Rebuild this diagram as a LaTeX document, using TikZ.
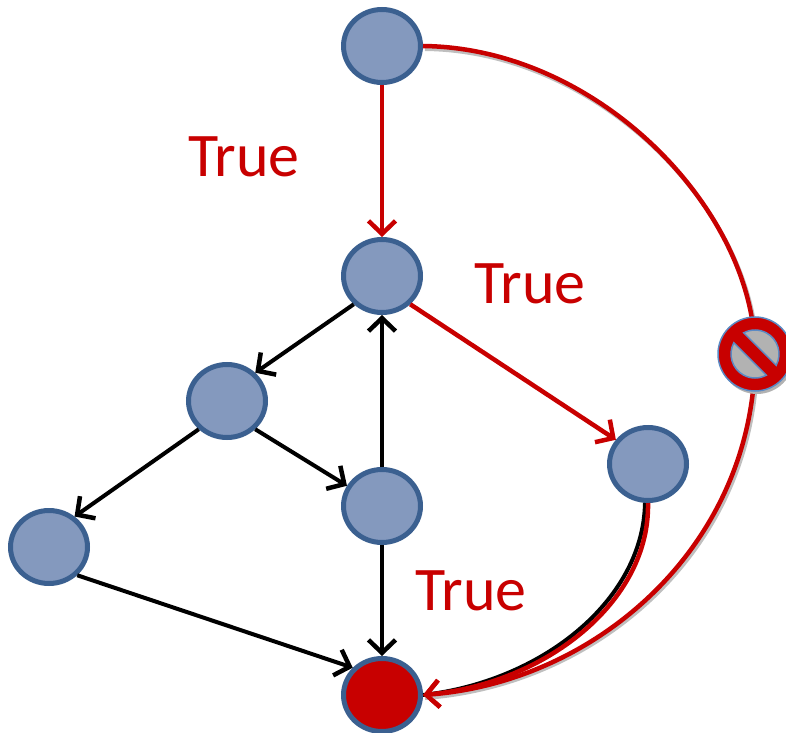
\documentclass[tikz,border=0pt]{standalone}
\usepackage{fontspec}
\setmainfont{Carlito}
\usepackage{xcolor}
\usetikzlibrary{arrows.meta,shapes.geometric}
\definecolor{darkred}{HTML}{C80000}
\definecolor{nodeblue}{HTML}{8499BE}
\definecolor{edgeblue}{HTML}{3B6090}
\definecolor{signblue}{HTML}{5B8AC4}
\begin{document}
\begin{tikzpicture}[
  x=1pt, y=1pt,
  vertex/.style={draw=edgeblue, fill=nodeblue, ellipse, line width=5pt, minimum width=77pt, minimum height=73pt, inner sep=0pt},
  label/.style={text=darkred, font=\fontsize{62}{62}\selectfont, inner sep=0pt},
  arr/.style={-{Straight Barb[length=13pt,width=27pt,line width=4.5pt]}, line width=4pt},
  redarr/.style={arr, draw=darkred, line width=4.5pt},
  soft/.style={preaction={draw=black!25, line width=4pt, transform canvas={shift={(2pt,-3pt)}}, -}}
]
\useasboundingbox (0,0) rectangle (786,732);

\node[vertex] (n1) at (382,686) {};
\node[vertex] (n2) at (382,456) {};
\node[vertex] (n3) at (227,331) {};
\node[vertex] (n4) at (382,226) {};
\node[vertex] (n5) at (49,185) {};
\node[vertex] (n6) at (648,268) {};
\node[vertex, fill=darkred] (n7) at (382,37) {};

\node[label] (t1) at (244,575) {True};
\node[label] (t2) at (530,448) {True};
\node[label] (t3) at (471,141) {True};

\coordinate (nosign) at (755,378);

\draw[arr] (n2.225) -- (n3.45);
\draw[arr] (n3.225) -- (n5.50);
\draw[arr] (n3.-45) -- (n4.150);
\draw[arr] (n4) -- (n2);
\draw[arr] (n4) -- (n7);
\draw[arr] (n5.-45) -- (n7.137);
\draw[line width=4pt] ([xshift=-3pt]n6.south) .. controls (643,130) and (540,50) .. (n7.east);

\draw[redarr] (n1) -- (n2);
\draw[redarr] (n2.-45) -- (n6.143);
\draw[redarr] (n6.south) .. controls (650,130) and (545,48) .. (n7.east);
\draw[redarr, soft] (n1.east) .. controls (600,684) and (755,520) .. (nosign) .. controls (755,190) and (600,50) .. (n7.east);

\fill[black!30] (757,375) circle (37);
\draw[draw=signblue, line width=1.5pt, fill=darkred, even odd rule]
  (nosign) circle (37)
  ([shift={(nosign)}]-28:24) arc (-28:118:24) -- cycle
  ([shift={(nosign)}]152:24) arc (152:298:24) -- cycle;
\end{tikzpicture}
\end{document}
